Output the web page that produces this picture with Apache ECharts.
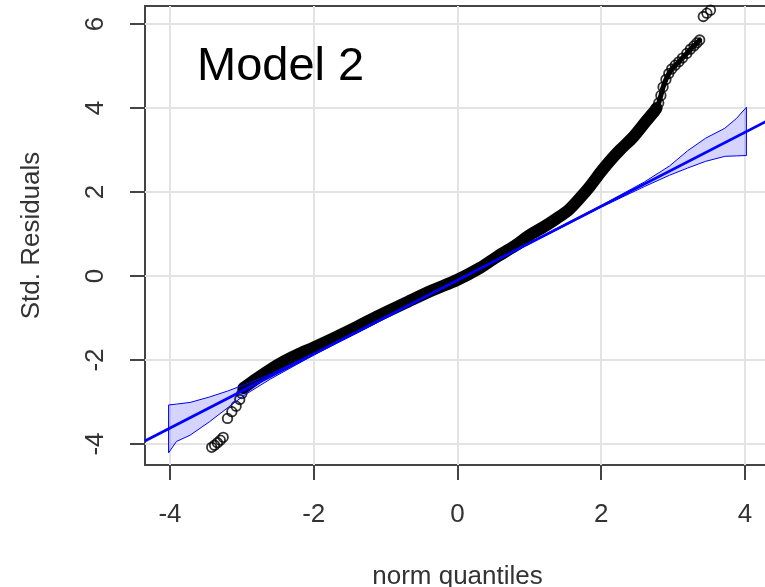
<!DOCTYPE html>
<html><head><meta charset="utf-8">
<script src="https://cdn.jsdelivr.net/npm/echarts@6/dist/echarts.min.js"></script>
<style>html,body{margin:0;padding:0;background:#fff}#c{width:765px;height:587px}</style>
</head><body><div id="c"></div>
<script>
// tick labels
const xTicks = [-4, -2, 0, 2, 4];
const yTicks = [-4, -2, 0, 2, 4, 6];

// dense central part of the QQ points (read along the black band)
const denseX = [-2.98, -2.8, -2.6, -2.4, -2.2, -2.0, -1.7, -1.4, -1.08, -0.7, -0.35, 0, 0.31, 0.55, 0.8, 1.01, 1.2, 1.38, 1.55, 1.7, 1.85, 1.99, 2.12, 2.26, 2.45, 2.63, 2.72, 2.77];
const denseY = [-2.67, -2.45, -2.22, -2.02, -1.85, -1.70, -1.46, -1.21, -0.93, -0.62, -0.34, -0.09, 0.19, 0.46, 0.72, 0.98, 1.17, 1.37, 1.58, 1.85, 2.15, 2.47, 2.74, 3.00, 3.32, 3.70, 3.88, 4.00];

// upper tail chain of overlapping points
const chainX = [2.77, 2.80, 2.83, 2.86, 2.90, 2.94, 2.98, 3.03, 3.08, 3.13, 3.19, 3.24, 3.29, 3.33, 3.37];
const chainY = [4.00, 4.12, 4.30, 4.50, 4.68, 4.82, 4.93, 5.02, 5.10, 5.19, 5.30, 5.40, 5.48, 5.55, 5.62];

// individually visible tail points
const tailX = [-3.42, -3.38, -3.34, -3.30, -3.26, -3.20, -3.14, -3.08, -3.03, -3.00, 2.80, 2.83, 2.86, 2.90, 2.94, 2.98, 3.03, 3.08, 3.13, 3.19, 3.24, 3.29, 3.33, 3.37, 3.42, 3.47, 3.52];
const tailY = [-4.08, -4.03, -3.97, -3.91, -3.84, -3.39, -3.23, -3.10, -2.94, -2.80, 4.12, 4.30, 4.50, 4.68, 4.82, 4.93, 5.02, 5.10, 5.19, 5.30, 5.40, 5.48, 5.55, 5.62, 6.18, 6.26, 6.33];

// confidence envelope
const envX     = [-4.02, -3.91, -3.72, -3.45, -3.2, -2.95, -2.6, -2.0, 0, 2.0, 2.6, 2.95, 3.2, 3.45, 3.72, 3.88, 4.02];
const envUpper = [-3.07, -3.05, -3.01, -2.88, -2.74, -2.58, -2.33, -1.84, -0.09, 1.68, 2.24, 2.62, 2.98, 3.28, 3.52, 3.75, 4.02];
const envLower = [-4.21, -3.94, -3.79, -3.47, -3.14, -2.82, -2.45, -1.88, -0.11, 1.64, 2.13, 2.40, 2.57, 2.73, 2.85, 2.86, 2.87];

// reference line end points
const refX = [-4.35, 4.35];
const refY = [-3.93, 3.73];

const font = "'Liberation Sans', Arial, sans-serif";
const chart = echarts.init(document.getElementById('c'), null, {renderer: 'canvas'});

const pairs = (xs, ys) => xs.map((x, i) => [x, ys[i]]);

const option = {
  animation: false,
  backgroundColor: '#ffffff',
  graphic: [{
    type: 'text', left: 197, top: 44, z: 100,
    style: {text: 'Model 2', fontSize: 47, fontFamily: font, fill: '#000'}
  }],
  grid: {left: 145, top: 6, right: -5, bottom: 122, outerBoundsMode: 'none', containLabel: false,
         show: true, borderColor: '#444', borderWidth: 2, backgroundColor: 'rgba(0,0,0,0)'},
  xAxis: {
    type: 'value', min: -4.348, max: 4.348,
    name: 'norm quantiles', nameLocation: 'middle', nameGap: 99,
    nameTextStyle: {fontSize: 26, color: '#333', fontFamily: font},
    axisLine: {show: false, onZero: false},
    axisTick: {show: true, length: 15, customValues: xTicks, lineStyle: {color: '#444', width: 2}},
    axisLabel: {customValues: xTicks, margin: 37, fontSize: 26, color: '#333', fontFamily: font},
    splitLine: {show: true, lineStyle: {color: '#e3e3e3', width: 2}}
  },
  yAxis: {
    type: 'value', min: -4.5, max: 6.43,
    name: 'Std. Residuals', nameLocation: 'middle', nameGap: 100, nameRotate: 90,
    nameTextStyle: {fontSize: 26, color: '#333', fontFamily: font},
    axisLine: {show: false, onZero: false},
    axisTick: {show: true, length: 15, customValues: yTicks, lineStyle: {color: '#444', width: 2}},
    axisLabel: {customValues: yTicks, rotate: 90, margin: 36, fontSize: 26, color: '#333', fontFamily: font},
    splitLine: {show: true, lineStyle: {color: '#e3e3e3', width: 2}}
  },
  series: [
    {
      type: 'line', data: pairs(denseX, denseY), showSymbol: false, symbol: 'none', smooth: 0.3,
      lineStyle: {color: '#000', width: 12, cap: 'round', join: 'round'}, z: 2
    },
    {
      type: 'line', data: pairs(chainX, chainY), showSymbol: false, symbol: 'none',
      lineStyle: {color: '#000', width: 5, cap: 'round', join: 'round'}, z: 2
    },
    {
      type: 'scatter', data: pairs(tailX, tailY), symbol: 'circle', symbolSize: 9.5,
      itemStyle: {color: 'rgba(255,255,255,0)', borderColor: '#000', borderWidth: 1.8}, z: 3
    },
    {
      type: 'custom', data: [[0, 0]], z: 4,
      renderItem: function (params, api) {
        const pts = [];
        for (let i = 0; i < envX.length; i++) pts.push(api.coord([envX[i], envUpper[i]]));
        for (let i = envX.length - 1; i >= 0; i--) pts.push(api.coord([envX[i], envLower[i]]));
        return {type: 'polygon', shape: {points: pts}, style: {fill: 'rgba(0,0,255,0.17)', stroke: '#0000ff', lineWidth: 1}};
      }
    },
    {
      type: 'line', data: pairs(refX, refY), showSymbol: false, symbol: 'none',
      lineStyle: {color: '#0000ff', width: 2.8}, z: 5
    }
  ]
};
chart.setOption(option);
</script>
</body></html>
